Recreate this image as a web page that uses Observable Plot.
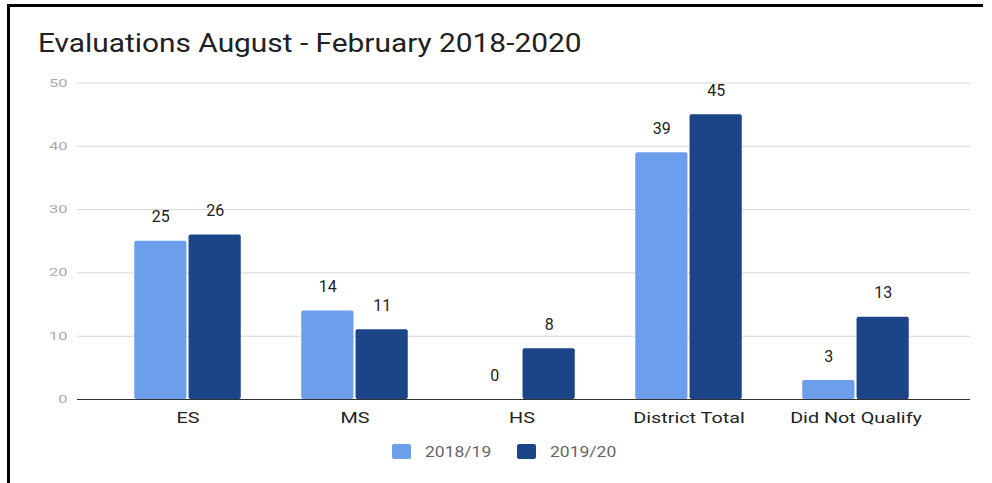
<!DOCTYPE html>
<html>
<head>
<meta charset="utf-8">
<script src="https://cdn.jsdelivr.net/npm/d3@7"></script>
<script src="https://cdn.jsdelivr.net/npm/@observablehq/plot@0.6"></script>
<style>
  html, body { margin: 0; padding: 0; background: #fff; width: 992px; height: 483px; overflow: hidden; font-family: Roboto, sans-serif; }
  #frame { position: absolute; left: 7px; top: 4px; width: 976px; height: 500px; border-top: 3px solid #000; border-left: 3px solid #000; box-sizing: border-box; }
  #title { position: absolute; left: 38px; top: 30px; font-size: 26px; line-height: 26px; color: #212121; white-space: nowrap; transform: scaleX(1.148); transform-origin: left center; }
  #chart { position: absolute; left: 0; top: 60px; }
  #legend { position: absolute; left: 392px; top: 443px; display: flex; align-items: center; height: 17px; }
  .sw { width: 19px; height: 15px; border-radius: 2px; margin-right: 14px; }
  .lab { font-size: 14px; color: #666; margin-right: 39px; transform: scaleX(1.25); transform-origin: left center; }
</style>
</head>
<body>
<div id="frame"></div>
<div id="title">Evaluations August - February 2018-2020</div>
<div id="chart"></div>
<div id="legend"></div>
<script>
const categories = ["ES", "MS", "HS", "District Total", "Did Not Qualify"];
const seriesNames = ["2018/19", "2019/20"];
const values2018 = [25, 14, 0, 39, 3];
const values2019 = [26, 11, 8, 45, 13];
const yTicks = [0, 10, 20, 30, 40, 50];
const colors = ["#6d9eeb", "#1c4587"];

const d2018 = categories.map((c, i) => ({cat: c, series: seriesNames[0], value: values2018[i]}));
const d2019 = categories.map((c, i) => ({cat: c, series: seriesNames[1], value: values2019[i]}));

const chart = Plot.plot({
  width: 992,
  height: 380,
  marginLeft: 77,
  marginRight: 22,
  marginTop: 22,
  marginBottom: 41,
  style: {fontFamily: "Roboto, sans-serif", background: "transparent"},
  x: {domain: categories, range: [102.9, 940.9], padding: 0},
  y: {domain: [0, 50], range: [339, 22.5]},
  marks: [
    Plot.ruleY(yTicks.filter(t => t !== 0), {stroke: "#d6d6d6", strokeWidth: 1}),
    Plot.barY(d2018, {x: "cat", y: "value", fill: colors[0], insetLeft: 30.25, insetRight: 84.55, rx: 2}),
    Plot.barY(d2019, {x: "cat", y: "value", fill: colors[1], insetLeft: 84.55, insetRight: 30.25, rx: 2}),
    Plot.ruleY([0], {stroke: "#333", strokeWidth: 1}),
    Plot.text(d2018, {x: "cat", y: "value", text: d => String(d.value), dx: -27.15, dy: -24, fontSize: 16, fill: "#222", lineAnchor: "middle", ariaLabel: "value-label"}),
    Plot.text(d2019, {x: "cat", y: "value", text: d => String(d.value), dx: 27.15, dy: -24, fontSize: 16, fill: "#222", lineAnchor: "middle", ariaLabel: "value-label"}),
    Plot.axisY({ticks: yTicks, tickSize: 0, tickPadding: 10, fontSize: 11, color: "#aaa", label: null}),
    Plot.axisX({tickSize: 0, tickPadding: 13, fontSize: 15, color: "#222", label: null})
  ]
});
document.getElementById("chart").appendChild(chart);

// widen glyphs horizontally around each text's anchor, as in the reference
function stretch(sel, k, anchor) {
  chart.querySelectorAll(sel).forEach(t => {
    const g = document.createElementNS("http://www.w3.org/2000/svg", "g");
    t.parentNode.insertBefore(g, t);
    g.appendChild(t);
    const b = g.getBBox();
    const ax = anchor === "end" ? b.x + b.width : b.x + b.width / 2;
    g.setAttribute("transform", `translate(${ax},0) scale(${k},1) translate(${-ax},0)`);
  });
}
stretch('g[aria-label="y-axis tick label"] text', 1.5, "end");
stretch('g[aria-label="x-axis tick label"] text', 1.32, "middle");
stretch('g[aria-label="value-label"] text', 1.15, "middle");

const legend = document.getElementById("legend");
seriesNames.forEach((s, i) => {
  const sw = document.createElement("div");
  sw.className = "sw";
  sw.style.background = colors[i];
  const lab = document.createElement("div");
  lab.className = "lab";
  lab.textContent = s;
  legend.appendChild(sw);
  legend.appendChild(lab);
});
</script>
</body>
</html>
